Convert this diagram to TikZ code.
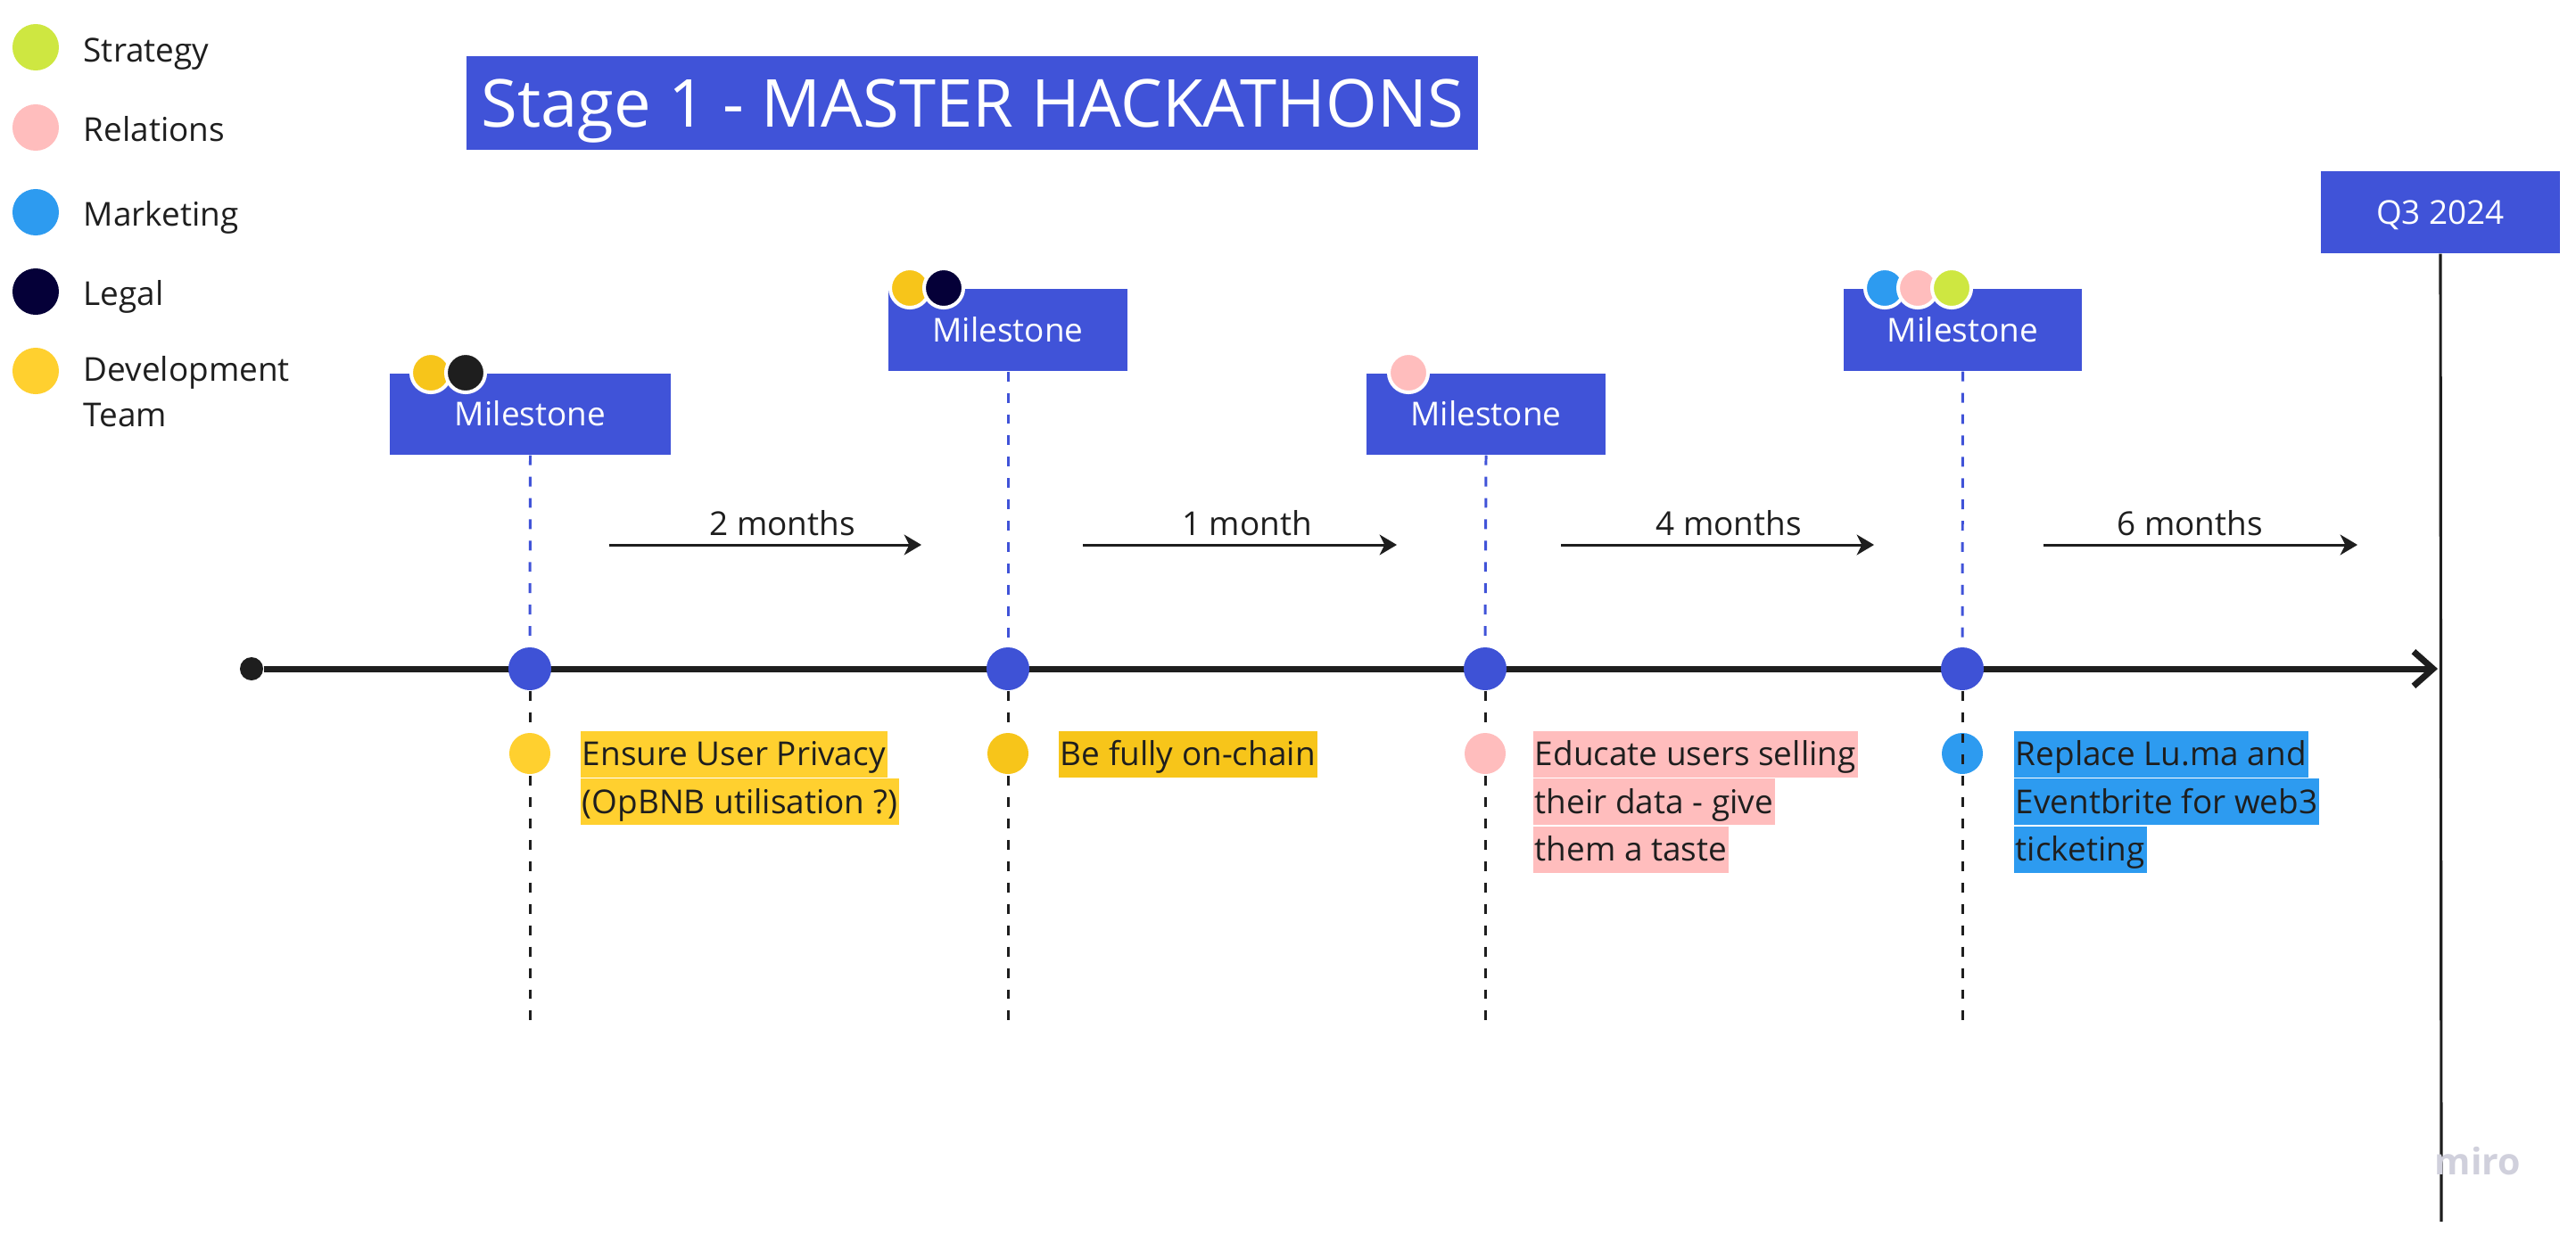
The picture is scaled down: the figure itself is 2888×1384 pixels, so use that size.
\documentclass[tikz,border=0pt]{standalone}
\usepackage{fontspec}
\setmainfont{Open Sans}
\usetikzlibrary{arrows.meta}

\definecolor{boxblue}{RGB}{64,83,216}
\definecolor{dotblue}{RGB}{62,82,214}
\definecolor{ink}{HTML}{1E1E1E}
\definecolor{strategy}{HTML}{CEE741}
\definecolor{relations}{HTML}{FFBDBD}
\definecolor{marketing}{HTML}{2D9BF0}
\definecolor{legal}{HTML}{050038}
\definecolor{devteam}{HTML}{FFD02F}
\definecolor{devdark}{HTML}{F7C51A}
\definecolor{watermark}{HTML}{D0D0DC}

\begin{document}
\begin{tikzpicture}[x=0.01cm,y=-0.01cm,
  every node/.style={font=\fontsize{10.5pt}{14pt}\selectfont},
  legenddot/.style={circle,inner sep=0pt,minimum size=0.52cm},
  legendtext/.style={anchor=base west,text=ink,inner sep=0pt},
  bluebox/.style={fill=boxblue,text=white,inner sep=0pt,text height=7.5pt,text depth=0pt},
  badge/.style={circle,inner sep=0pt,minimum size=0.44cm,draw=white,line width=1.15pt},
  milestonedot/.style={circle,fill=dotblue,inner sep=0pt,minimum size=0.48cm},
  catdot/.style={circle,inner sep=0pt,minimum size=0.46cm},
  guide/.style={dash pattern=on 3.1pt off 3.7pt,line width=0.85pt},
  hl/.style={anchor=north west,inner xsep=0.6pt,inner ysep=0pt,text height=0.39cm,text depth=0.13cm,text=ink},
  interval/.style={-{Stealth[length=5.5pt,width=6.5pt,inset=1.6pt]},line width=0.85pt,draw=ink},
  span/.style={anchor=base,text=ink,inner sep=0pt},
]
\useasboundingbox (0,0) rectangle (2888,1384);

% legend
\node[legenddot,fill=strategy]  (lgS) at (40,53)  {};
\node[legenddot,fill=relations] (lgR) at (40,143) {};
\node[legenddot,fill=marketing] (lgM) at (40,238) {};
\node[legenddot,fill=legal]     (lgL) at (40,327) {};
\node[legenddot,fill=devteam]   (lgD) at (40,416) {};
\node[legendtext] (lgStxt) at (93,69)  {Strategy};
\node[legendtext] (lgRtxt) at (93,158) {Relations};
\node[legendtext] (lgMtxt) at (93,253) {Marketing};
\node[legendtext] (lgLtxt) at (93,342) {Legal};
\node[legendtext] (lgDtxt) at (93,427) {Development};
\node[legendtext] (lgDtxtb) at (93,478) {Team};

% title
\node[bluebox,minimum width=11.34cm,minimum height=1.05cm,text height=15.1pt,
      font=\fontsize{21.1pt}{25pt}\selectfont] (title) at (1090,115.5) {Stage 1 - MASTER HACKATHONS};

% milestone boxes
\node[bluebox,minimum width=3.15cm,minimum height=0.91cm] (m1) at (594.5,464.5) {Milestone};
\node[bluebox,minimum width=2.68cm,minimum height=0.92cm] (m2) at (1130,370) {Milestone};
\node[bluebox,minimum width=2.68cm,minimum height=0.91cm] (m3) at (1666,464.5) {Milestone};
\node[bluebox,minimum width=2.67cm,minimum height=0.92cm] (m4) at (2200.5,370) {Milestone};
\node[bluebox,minimum width=2.68cm,minimum height=0.92cm] (q3) at (2736,238) {Q3 2024};

% team badges on the milestone boxes
\node[badge,fill=devdark]   (b1a) at (483,418) {};
\node[badge,fill=ink]       (b1b) at (522,418) {};
\node[badge,fill=devdark]   (b2a) at (1020,323) {};
\node[badge,fill=legal]     (b2b) at (1058,323) {};
\node[badge,fill=relations] (b3a) at (1579,418) {};
\node[badge,fill=marketing] (b4a) at (2113,323) {};
\node[badge,fill=relations] (b4b) at (2150,323) {};
\node[badge,fill=strategy]  (b4c) at (2188,323) {};

% deadline line
\coordinate (qend) at (2737,1370);
\draw[ink,line width=0.9pt] (q3.south) -- (qend);

% main time axis
\node[circle,fill=ink,inner sep=0pt,minimum size=0.26cm] (start) at (282,750) {};
\coordinate (tip) at (2733,750);
\draw[ink,line width=2pt,-{Straight Barb[length=6.2pt,width=11pt]}] (start) -- (tip);

\node[milestonedot] (d1) at (594,750)  {};
\node[milestonedot] (d2) at (1130,750) {};
\node[milestonedot] (d3) at (1665,750) {};
\node[milestonedot] (d4) at (2200,750) {};

\foreach \i in {1,...,4} {
  \draw[guide,draw=boxblue] (m\i.south) -- (d\i.north);
}

% lines below the axis with the team of each goal
\coordinate (e1) at (594,1145);
\coordinate (e2) at (1130,1145);
\coordinate (e3) at (1665,1145);
\coordinate (e4) at (2200,1145);
\node[catdot,fill=marketing] (c4) at (2200,845) {};
\foreach \i in {1,...,4} {
  \draw[guide,draw=ink] (d\i.south) -- (e\i);
}
\node[catdot,fill=devteam]   (c1) at (594,845)  {};
\node[catdot,fill=devdark]   (c2) at (1130,845) {};
\node[catdot,fill=relations] (c3) at (1665,845) {};

% goals
\node[hl,fill=devteam] (t1a) at (650,819) {Ensure User Privacy\hspace{0.22em}};
\node[hl,fill=devteam] (t1b) at (t1a.south west) {(OpBNB utilisation ?)};
\node[hl,fill=devdark] (t2a) at (1186,819) {Be fully on-chain\hspace{0.22em}};
\node[hl,fill=relations] (t3a) at (1718,819) {Educate users selling\hspace{0.22em}};
\node[hl,fill=relations] (t3b) at (t3a.south west) {their data - give\hspace{0.22em}};
\node[hl,fill=relations] (t3c) at (t3b.south west) {them a taste};
\node[hl,fill=marketing] (t4a) at (2257,819) {Replace Lu.ma and\hspace{0.22em}};
\node[hl,fill=marketing] (t4b) at (t4a.south west) {Eventbrite for web3\hspace{0.22em}};
\node[hl,fill=marketing] (t4c) at (t4b.south west) {ticketing};

% intervals between milestones
\coordinate (a1s) at (683,611);  \coordinate (a1e) at (1033,611);
\coordinate (a2s) at (1214,611); \coordinate (a2e) at (1566,611);
\coordinate (a3s) at (1750,611); \coordinate (a3e) at (2101,611);
\coordinate (a4s) at (2291,611); \coordinate (a4e) at (2643,611);
\foreach \i in {1,...,4} {
  \draw[interval] (a\i s) -- (a\i e);
}
\node[span] (l1) at (877,600)  {2 months};
\node[span] (l2) at (1398,600) {1 month};
\node[span] (l3) at (1938,600) {4 months};
\node[span] (l4) at (2455,600) {6 months};

% board watermark
\node[anchor=base west,inner sep=0pt,text=watermark,font=\fontsize{11.7pt}{14pt}\selectfont\bfseries] (wm) at (2729,1317) {miro};
\end{tikzpicture}
\end{document}
